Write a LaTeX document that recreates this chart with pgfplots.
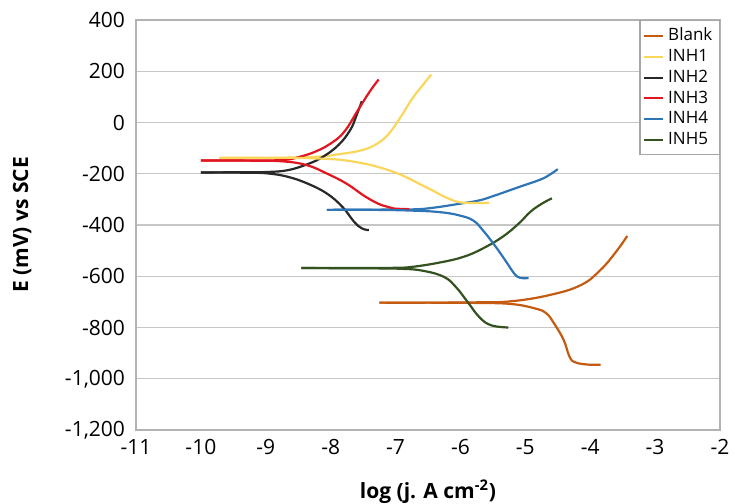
\documentclass[border=0pt]{standalone}
\usepackage{fontspec}
\setmainfont{Open Sans}
\usepackage{pgfplots}
\pgfplotsset{compat=1.18}
\definecolor{cblank}{RGB}{197,90,17}
\definecolor{cinh1}{RGB}{250,214,92}
\definecolor{cinh2}{RGB}{40,40,40}
\definecolor{cinh3}{RGB}{226,22,32}
\definecolor{cinh4}{RGB}{46,117,182}
\definecolor{cinh5}{RGB}{52,82,32}
\begin{document}
\begin{tikzpicture}
\begin{axis}[
  scale only axis, width=292pt, height=205pt,
  xmin=-11, xmax=-2, ymin=-1200, ymax=400,
  xtick={-11,-10,...,-2}, ytick={-1200,-1000,...,400},
  major tick length=0pt,
  ymajorgrids, grid style={gray!45, line width=0.6pt},
  axis line style={gray!60, line width=0.6pt},
  /pgf/number format/assume math mode=true,
  /pgf/number format/1000 sep={,},
  tick label style={font=\fontsize{10.5}{12}\selectfont},
  xticklabel style={yshift=-1pt},
  yticklabel style={xshift=-2pt},
  xlabel={\bfseries log (j. A cm\textsuperscript{-2})},
  ylabel={\bfseries E (mV) vs SCE},
  label style={font=\fontsize{10.5}{12}\selectfont},
  xlabel style={at={(axis description cs:0.5,-0.15)}, anchor=center},
  ylabel style={at={(axis description cs:-0.195,0.5)}, anchor=center},
  legend style={at={(1,1)}, anchor=north east, draw=gray!70, line width=0.6pt,
    font=\fontsize{8.5}{9.5}\selectfont, inner sep=1.5pt, row sep=-1.2pt},
  legend cell align=left,
  legend image code/.code={\draw[#1, line width=1pt] (0cm,0cm) -- (0.34cm,0cm);},
  every axis plot/.append style={line width=1.1pt, smooth, tension=0.7},
]
% Blank
\addplot[cblank] coordinates {(-7.25,-703) (-6.5,-703) (-5.8,-702) (-5.23,-698) (-4.62,-673) (-4.14,-634) (-3.84,-575) (-3.60,-504) (-3.43,-443)};
\addlegendentry{Blank}
% INH1
\addplot[cinh1] coordinates {(-9.72,-138) (-9.0,-138) (-8.24,-134) (-7.88,-124) (-7.52,-108) (-7.28,-82) (-7.10,-43) (-6.92,22) (-6.74,94) (-6.58,146) (-6.45,187)};
\addlegendentry{INH1}
% INH2
\addplot[cinh2] coordinates {(-10,-195) (-9.3,-194) (-8.96,-193) (-8.66,-186) (-8.36,-163) (-8.12,-134) (-7.88,-88) (-7.70,-30) (-7.61,22) (-7.52,83)};
\addlegendentry{INH2}
% INH3
\addplot[cinh3] coordinates {(-10,-148) (-9.2,-148) (-8.72,-146) (-8.48,-134) (-8.24,-114) (-8.0,-82) (-7.79,-36) (-7.58,48) (-7.40,120) (-7.26,168)};
\addlegendentry{INH3}
% INH4
\addplot[cinh4] coordinates {(-8.06,-341) (-7.3,-340) (-6.73,-339) (-6.43,-333) (-6.01,-317) (-5.71,-304) (-5.47,-285) (-5.10,-252) (-4.77,-223) (-4.62,-203) (-4.50,-182)};
\addlegendentry{INH4}
% INH5
\addplot[cinh5] coordinates {(-8.45,-568) (-7.6,-568) (-7.0,-567) (-6.73,-563) (-6.31,-546) (-5.95,-524) (-5.65,-491) (-5.35,-446) (-5.10,-394) (-4.92,-348) (-4.74,-316) (-4.59,-296)};
\addlegendentry{INH5}
% cathodic branches
\addplot[cblank, forget plot] coordinates {(-7.25,-703) (-6.5,-703) (-5.8,-704) (-5.23,-708) (-4.86,-725) (-4.68,-744) (-4.56,-783) (-4.41,-848) (-4.32,-913) (-4.23,-936) (-4.02,-945) (-3.84,-945)};
\addplot[cinh1, forget plot] coordinates {(-9.72,-138) (-9.0,-138) (-8.24,-140) (-7.64,-153) (-7.04,-192) (-6.55,-250) (-6.19,-296) (-5.95,-313) (-5.56,-313)};
\addplot[cinh2, forget plot] coordinates {(-10,-195) (-9.3,-196) (-8.96,-199) (-8.66,-212) (-8.36,-238) (-8.06,-277) (-7.82,-329) (-7.64,-387) (-7.52,-413) (-7.41,-420)};
\addplot[cinh3, forget plot] coordinates {(-10,-148) (-9.2,-149) (-8.72,-152) (-8.36,-167) (-8.06,-199) (-7.76,-238) (-7.46,-290) (-7.22,-322) (-7.04,-335) (-6.79,-338)};
\addplot[cinh4, forget plot] coordinates {(-8.06,-341) (-7.3,-341) (-6.73,-344) (-6.31,-350) (-6.01,-363) (-5.80,-383) (-5.65,-422) (-5.47,-480) (-5.29,-545) (-5.17,-590) (-5.08,-606) (-4.95,-607)};
\addplot[cinh5, forget plot] coordinates {(-8.45,-568) (-7.6,-569) (-6.9,-571) (-6.55,-580) (-6.25,-603) (-6.07,-642) (-5.89,-700) (-5.71,-759) (-5.53,-791) (-5.26,-800)};
\end{axis}
\pgfresetboundingbox
\path (-68pt,-37pt) rectangle (299.5pt,215pt);
\end{tikzpicture}
\end{document}
